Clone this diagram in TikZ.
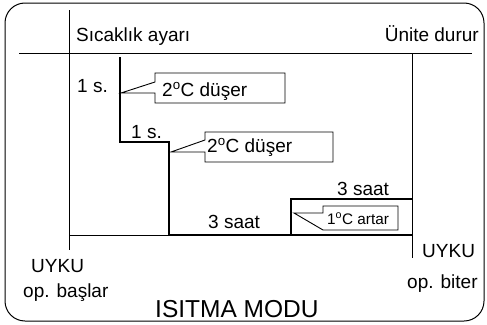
\documentclass[tikz,border=0pt]{standalone}
\usepackage{fontspec}
\setmainfont{Liberation Sans}
\begin{document}
\begin{tikzpicture}[x=1pt,y=-1pt,
  thin line/.style={line width=0.9pt},
  thick line/.style={line width=2pt},
  lbl/.style={inner sep=0pt,font=\fontsize{19}{21}\selectfont},
  smalllbl/.style={inner sep=0pt,font=\fontsize{15.3}{17}\selectfont},
  biglbl/.style={inner sep=0pt,font=\fontsize{24.5}{26}\selectfont},
  callout/.style={line width=0.9pt}]
\useasboundingbox (0,0) rectangle (487,324);
% frame
\draw[line width=1pt,rounded corners=20pt] (5,3) rectangle (484,321);
% axes
\coordinate (axT) at (69,10);
\coordinate (axB) at (69,250);
\coordinate (hL) at (19,53);
\coordinate (hR) at (472,53);
\coordinate (rT) at (412,53);
\coordinate (rB) at (412,258);
\draw[thin line] (axT) -- (axB);
\draw[thin line] (hL) -- (hR);
\draw[thin line] (rT) -- (rB);
\draw[thin line] (69,235) -- (169,235);
% step profile
\draw[thick line] (120,57) -- (120,142) -- (169,142) -- (169,235) -- (412,235);
\draw[thick line] (291,235) -- (291,199) -- (412,199);
% callouts
\draw[callout,fill=white] (155,82) -- (155,73) -- (285,73) -- (285,103) -- (155,103) -- (155,93) -- (121,93) -- cycle;
\draw[callout,fill=white] (205,140) -- (205,132) -- (333,132) -- (333,162) -- (205,162) -- (205,152) -- (171,152) -- cycle;
\draw[callout,fill=white] (323,213) -- (323,206) -- (398,206) -- (398,230) -- (323,230) -- (294,213) -- cycle;
% labels
\node[lbl,anchor=base west] (sic) at (76,41) {Sıcaklık ayarı};
\node[lbl,anchor=base east] (uni) at (479,41) {Ünite durur};
\node[lbl,anchor=base west] (s1) at (77,92) {1 s.};
\node[lbl,anchor=base west] (s2) at (131,138) {1 s.};
\node[lbl,anchor=base west] (c1) at (162,96) {2\textsuperscript{o}C düşer};
\node[lbl,anchor=base west] (c2) at (207,152) {2\textsuperscript{o}C düşer};
\node[smalllbl,anchor=base west] (c3) at (327,224) {1\textsuperscript{o}C artar};
\node[lbl,anchor=base west] (t1) at (208,228) {3 saat};
\node[lbl,anchor=base west] (t2) at (337,195) {3 saat};
\node[lbl,anchor=base west] (u1) at (31,272) {UYKU};
\node[lbl,anchor=base west] (o1) at (23,297) {op. başlar};
\node[lbl,anchor=base west] (u2) at (422,257) {UYKU};
\node[lbl,anchor=base west] (o2) at (407,288) {op. biter};
\node[biglbl,anchor=base west] (title) at (155,317) {ISITMA MODU};
\end{tikzpicture}
\end{document}
